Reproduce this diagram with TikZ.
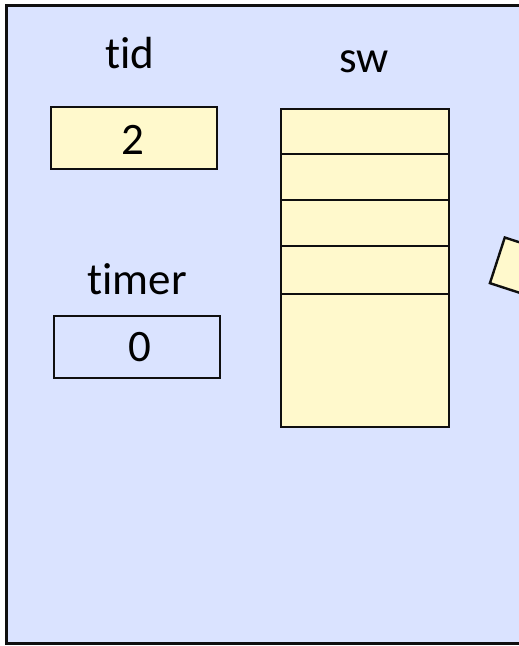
\documentclass[tikz,border=0pt]{standalone}
\usepackage{fontspec}
\setmainfont{Carlito}[Ligatures=NoCommon]
\definecolor{bgblue}{RGB}{218,227,255}
\definecolor{cellyellow}{RGB}{255,249,204}
\definecolor{edge}{RGB}{15,15,15}
\begin{document}
\begin{tikzpicture}[x=1pt,y=-1pt,
  lbl/.style={font=\fontsize{45}{52}\selectfont, inner sep=0pt, anchor=base},
  valbox/.style={draw=edge, line width=2.4pt, minimum width=166pt, minimum height=62pt, inner sep=0pt},
  cell/.style={draw=edge, line width=2.4pt, fill=cellyellow, minimum width=168pt, inner sep=0pt, anchor=north west}]
\useasboundingbox (0,0) rectangle (519,646);
\begin{scope}
\clip (0,0) rectangle (519,646);
\draw[line width=3pt, draw=edge, fill=bgblue] (6,5) rectangle (560,643);
\node[draw=edge, line width=2.4pt, fill=cellyellow, minimum width=140pt, minimum height=48pt, rotate=-18, anchor=north west, inner sep=0pt] (frame) at (504,236) {};
\end{scope}
\node[lbl] (tidlbl) at (130,68) {tid};
\node[valbox, fill=cellyellow] (tid) at (134,138) {};
\node[lbl] (tidval) at (133,154) {2};
\node[lbl] (timerlbl) at (137,294) {timer};
\node[valbox] (timer) at (137,347) {};
\node[lbl] (timerval) at (140,361) {0};
\node[lbl] (swlbl) at (364,72) {sw};
\node[cell, minimum height=45pt] (c1) at (280,108) {};
\node[cell, minimum height=46pt] (c2) at (280,153) {};
\node[cell, minimum height=46pt] (c3) at (280,199) {};
\node[cell, minimum height=48pt] (c4) at (280,245) {};
\node[cell, minimum height=133pt] (c5) at (280,293) {};
\end{tikzpicture}
\end{document}
